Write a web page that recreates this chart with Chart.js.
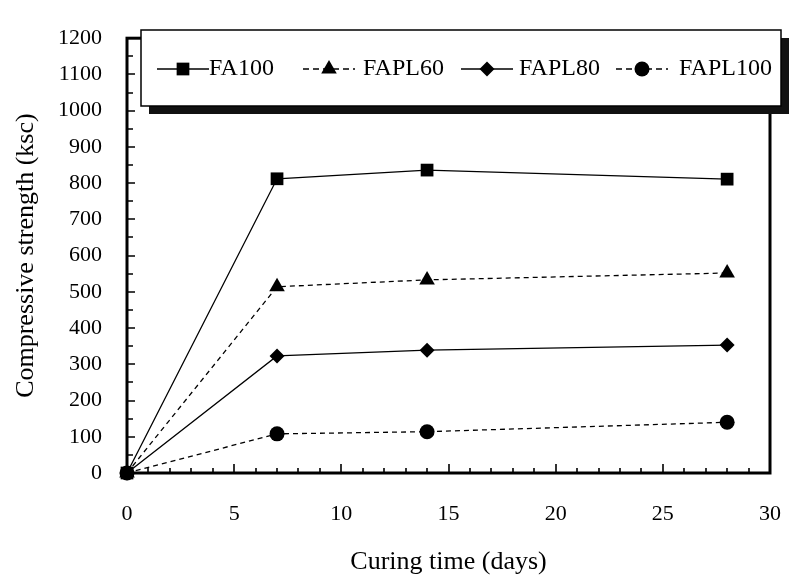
<!DOCTYPE html>
<html>
<head>
<meta charset="utf-8">
<script src="https://cdn.jsdelivr.net/npm/chart.js@4.4.0/dist/chart.umd.min.js"></script>
<style>
  html, body { margin: 0; padding: 0; background: #fff; }
</style>
</head>
<body>
<canvas id="strengthChart" width="809" height="578"></canvas>
<script>
// Datos
const curingDays = [0, 7, 14, 28];
const fa100 = [0, 812, 836, 811];
const fapl60 = [0, 514, 533, 552];
const fapl80 = [0, 323, 339, 353];
const fapl100 = [0, 108, 114, 140];
const seriesNames = ["FA100", "FAPL60", "FAPL80", "FAPL100"];
const xLimits = [0, 30];
const yLimits = [0, 1200];

const serif = "'Liberation Serif', 'Times New Roman', serif";

// Convierte una serie en puntos {x, y}
function toPoints(values) {
  return curingDays.map((d, i) => ({ x: d, y: values[i] }));
}

// Dibuja un marcador simple (para la leyenda)
function drawMarker(ctx, style, x, y, r) {
  ctx.beginPath();
  if (style === "rect") {
    const s = r * Math.SQRT1_2;
    ctx.rect(x - s, y - s, 2 * s, 2 * s);
  } else if (style === "triangle") {
    ctx.moveTo(x, y - r);
    ctx.lineTo(x + r * Math.sin(2 * Math.PI / 3), y - r * Math.cos(2 * Math.PI / 3));
    ctx.lineTo(x + r * Math.sin(4 * Math.PI / 3), y - r * Math.cos(4 * Math.PI / 3));
    ctx.closePath();
  } else if (style === "rectRot") {
    ctx.moveTo(x - r, y);
    ctx.lineTo(x, y - r);
    ctx.lineTo(x + r, y);
    ctx.lineTo(x, y + r);
    ctx.closePath();
  } else {
    ctx.arc(x, y, r, 0, Math.PI * 2);
  }
  ctx.fill();
}

// Marco grueso y marcas de escala hacia adentro
const frameAndTicks = {
  id: "frameAndTicks",
  afterDatasetsDraw(chart) {
    const { ctx, chartArea: a, scales } = chart;
    ctx.save();
    ctx.strokeStyle = "#000";
    ctx.lineWidth = 1.6;
    ctx.beginPath();
    for (let v = scales.y.min; v <= scales.y.max; v += 50) {
      const y = Math.round(scales.y.getPixelForValue(v));
      const len = v % 100 === 0 ? 8 : 6;
      ctx.moveTo(a.left, y);
      ctx.lineTo(a.left + len, y);
    }
    for (let d = scales.x.min; d <= scales.x.max; d += 1) {
      const x = Math.round(scales.x.getPixelForValue(d));
      const len = d % 5 === 0 ? 9 : 5;
      ctx.moveTo(x, a.bottom);
      ctx.lineTo(x, a.bottom - len);
    }
    ctx.stroke();
    ctx.lineWidth = 3;
    ctx.strokeRect(a.left, a.top, a.right - a.left, a.bottom - a.top);
    ctx.restore();
  }
};

// Leyenda en caja con sombra, como en Excel
const boxLegend = {
  id: "boxLegend",
  afterDraw(chart) {
    const ctx = chart.ctx;
    const box = { x: 141, y: 30, w: 640, h: 76 };
    const lineStarts = [157, 303, 461, 616];
    const textStarts = [209, 363, 519, 679];
    ctx.save();
    ctx.fillStyle = "#111";
    ctx.fillRect(box.x + 8, box.y + 8, box.w, box.h);
    ctx.fillStyle = "#fff";
    ctx.fillRect(box.x, box.y, box.w, box.h);
    ctx.strokeStyle = "#000";
    ctx.lineWidth = 1.5;
    ctx.strokeRect(box.x, box.y, box.w, box.h);
    const cy = box.y + box.h / 2 + 1;
    ctx.font = "24px " + serif;
    ctx.textBaseline = "middle";
    ctx.textAlign = "left";
    chart.data.datasets.forEach((ds, i) => {
      const x0 = lineStarts[i];
      ctx.strokeStyle = "#000";
      ctx.lineWidth = 1.4;
      ctx.setLineDash(ds.borderDash.length ? [6, 4] : []);
      ctx.beginPath();
      ctx.moveTo(x0, cy);
      ctx.lineTo(x0 + 52, cy);
      ctx.stroke();
      ctx.setLineDash([]);
      ctx.fillStyle = "#000";
      drawMarker(ctx, ds.pointStyle, x0 + 26, cy, ds.pointRadius);
      ctx.fillText(seriesNames[i], textStarts[i], cy);
    });
    ctx.restore();
  }
};

function makeDataset(name, values, style, radius, dashed) {
  return {
    label: name,
    data: toPoints(values),
    borderColor: "#000",
    backgroundColor: "#000",
    borderWidth: 1.3,
    borderDash: dashed ? [5, 4] : [],
    pointStyle: style,
    pointRadius: radius,
    pointBorderWidth: 0,
    pointBackgroundColor: "#000",
    tension: 0,
    clip: false
  };
}

const ctx = document.getElementById("strengthChart").getContext("2d");
new Chart(ctx, {
  type: "line",
  data: {
    datasets: [
      makeDataset(seriesNames[0], fa100, "rect", 9, false),
      makeDataset(seriesNames[1], fapl60, "triangle", 9, true),
      makeDataset(seriesNames[2], fapl80, "rectRot", 7.5, false),
      makeDataset(seriesNames[3], fapl100, "circle", 7.5, true)
    ]
  },
  options: {
    responsive: false,
    animation: false,
    devicePixelRatio: 1,
    layout: { padding: { top: 22, right: 15, left: 0, bottom: 0 } },
    plugins: {
      legend: { display: false },
      tooltip: { enabled: false }
    },
    scales: {
      x: {
        type: "linear",
        min: xLimits[0],
        max: xLimits[1],
        grid: { display: false, drawTicks: false },
        border: { display: false },
        ticks: {
          stepSize: 5,
          color: "#000",
          padding: 28,
          font: { family: serif, size: 22 },
          callback: (v) => String(v)
        },
        title: {
          display: true,
          text: "Curing time (days)",
          color: "#000",
          font: { family: serif, size: 26, lineHeight: 1 },
          padding: { top: 0, bottom: 3 }
        },
        afterFit(scale) { scale.height = 105; }
      },
      y: {
        min: yLimits[0],
        max: yLimits[1],
        grid: { display: false, drawTicks: false },
        border: { display: false },
        ticks: {
          stepSize: 100,
          color: "#000",
          padding: 25,
          font: { family: serif, size: 22 },
          callback: (v) => String(v)
        },
        title: {
          display: true,
          text: "Compressive strength (ksc)",
          color: "#000",
          font: { family: serif, size: 26, lineHeight: 1 },
          padding: { top: 13, bottom: 0 }
        },
        afterFit(scale) { scale.width = 127; }
      }
    }
  },
  plugins: [frameAndTicks, boxLegend]
});
</script>
</body>
</html>
